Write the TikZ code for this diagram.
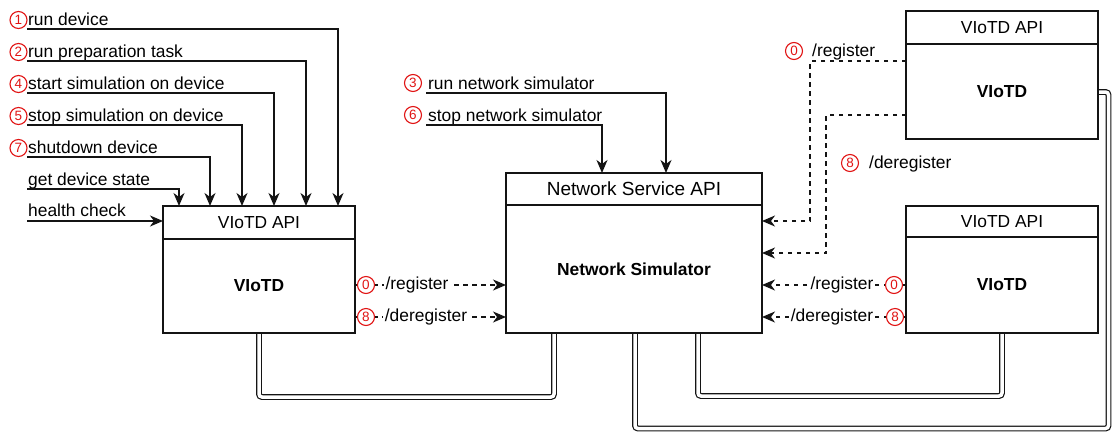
\documentclass[tikz,border=0pt]{standalone}
\usepackage{fontspec}
\setmainfont{Liberation Sans}
\usetikzlibrary{arrows.meta,calc,backgrounds}
\definecolor{numred}{RGB}{225,20,20}
\definecolor{ink}{RGB}{20,20,20}
\begin{document}
\begin{tikzpicture}[x=1pt,y=-1pt,
  every node/.style={inner sep=0pt},
  lbl/.style={font=\fontsize{17.4}{20}\selectfont, anchor=base west},
  hdr/.style={draw=ink, line width=1.4pt, fill=white, anchor=north west, outer sep=0pt,
    font=\fontsize{17.4}{20}\selectfont},
  bodybox/.style={draw=ink, line width=1.4pt, fill=white, anchor=north, outer sep=0pt,
    font=\fontsize{17.4}{20}\selectfont\bfseries},
  num/.style={circle, draw=numred, text=numred, line width=1.1pt,
    minimum size=17pt, fill=white, font=\fontsize{13.5}{14}\selectfont},
  arr/.style={draw=ink, line width=1.4pt, -{Stealth[length=13pt,width=11pt,inset=4pt]}},
  dasharr/.style={arr, dash pattern=on 4.5pt off 4.5pt},
  link/.style={draw=ink, line width=1.2pt, double=white, double distance=3.5pt,
    rounded corners=3pt},
  tag/.style={fill=white, inner xsep=1.5pt, inner ysep=1pt,
    font=\fontsize{17.4}{20}\selectfont}
]
\useasboundingbox (0,0) rectangle (1112,432);

% ---- boxes ----
\node[hdr, minimum width=192, minimum height=33] (lapi) at (163,206) {VIoTD API};
\node[bodybox, minimum width=192, minimum height=94] (ldev) at (lapi.south) {VIoTD};

\node[hdr, minimum width=256, minimum height=32, font=\fontsize{19}{22}\selectfont]
  (nsapi) at (506,173) {Network Service API};
\node[bodybox, minimum width=256, minimum height=128] (nsim) at (nsapi.south) {Network Simulator};

\node[hdr, minimum width=192, minimum height=33] (tapi) at (906,11) {VIoTD API};
\node[bodybox, minimum width=192, minimum height=95] (tdev) at (tapi.south) {VIoTD};

\node[hdr, minimum width=192, minimum height=31] (bapi) at (906,206) {VIoTD API};
\node[bodybox, minimum width=192, minimum height=96] (bdev) at (bapi.south) {VIoTD};

% ---- device commands ----
\node[num] (n1) at (18.5,20) {1};
\node[lbl] (c1) at (28,25) {run device};
\node[num] (n2) at (18.5,52) {2};
\node[lbl] (c2) at (28,57) {run preparation task};
\node[num] (n4) at (18.5,84) {4};
\node[lbl] (c4) at (28,89) {start simulation on device};
\node[num] (n5) at (18.5,116) {5};
\node[lbl] (c5) at (28,121) {stop simulation on device};
\node[num] (n7) at (18.5,148) {7};
\node[lbl] (c7) at (28,153) {shutdown device};
\node[lbl] (cs) at (28,185) {get device state};
\node[lbl] (ch) at (28,216) {health check};

\coordinate (s1) at (27,29);
\coordinate (s2) at (27,61);
\coordinate (s4) at (27,93);
\coordinate (s5) at (27,125);
\coordinate (s7) at (27,157);
\coordinate (ss) at (27,189);
\coordinate (sh) at (27,221);

\draw[arr] (s1) -| ([xshift=175pt]lapi.north west);
\draw[arr] (s2) -| ([xshift=143pt]lapi.north west);
\draw[arr] (s4) -| ([xshift=111pt]lapi.north west);
\draw[arr] (s5) -| ([xshift=79pt]lapi.north west);
\draw[arr] (s7) -| ([xshift=47pt]lapi.north west);
\draw[arr] (ss) -| ([xshift=16pt]lapi.north west);
\draw[arr] (sh) -- (sh -| lapi.west);

% ---- network simulator commands ----
\node[num] (n3) at (413,83) {3};
\node[lbl] (c3) at (428,89) {run network simulator};
\node[num] (n6) at (413,115) {6};
\node[lbl] (c6) at (428,121) {stop network simulator};
\coordinate (s3) at (426,93);
\coordinate (s6) at (426,125);
\draw[arr] (s3) -| ([xshift=160pt]nsapi.north west);
\draw[arr] (s6) -| ([xshift=96pt]nsapi.north west);

% ---- registration: left device ----
\coordinate (lr) at ([yshift=1pt]ldev.east);
\coordinate (ld) at ([yshift=-31pt]ldev.east);
\draw[dasharr] (lr) -- (lr -| nsim.west);
\draw[dasharr] (ld) -- (ld -| nsim.west);
\node[tag] (lrt) at (417,285) {/register};
\node[tag] (ldt) at (426,317) {/deregister};
\node[num] (lr0) at (366,285) {0};
\node[num] (ld8) at (366,317) {8};

% ---- registration: lower right device ----
\coordinate (br) at ([yshift=0pt]bdev.west);
\coordinate (bd) at ([yshift=-32pt]bdev.west);
\draw[dasharr] (br) -- (br -| nsim.east);
\draw[dasharr] (bd) -- (bd -| nsim.east);
\node[tag] (brt) at (842,285) {/register};
\node[tag] (bdt) at (832,317) {/deregister};
\node[num] (br0) at (894,285) {0};
\node[num] (bd8) at (895,317) {8};

% ---- registration: upper right device ----
\coordinate (tr) at ([yshift=30.5pt]tdev.west);
\coordinate (td) at ([yshift=-23.5pt]tdev.west);
\coordinate (kr) at (810,221);
\coordinate (kd) at (826,253);
\draw[dasharr] (tr) -| (kr) -- (kr -| nsim.east);
\draw[dasharr] (td) -| (kd) -- (kd -| nsim.east);
\node[num] (tr0) at (794,51) {0};
\node[lbl] (trt) at (812,56) {/register};
\node[num] (td8) at (850,163) {8};
\node[lbl] (tdt) at (869,168) {/deregister};

% ---- network links ----
\begin{pgfonlayer}{background}
  \draw[link] ([xshift=96pt]ldev.south west) -- ++(0,64) -| ([xshift=48pt]nsim.south west);
  \draw[link] (bdev.south) -- ++(0,63) -| ([xshift=192pt]nsim.south west);
  \draw[link] ([yshift=-0.5pt]tdev.east) -| (1108.5,428.5) -| ([xshift=129pt]nsim.south west);
\end{pgfonlayer}
\end{tikzpicture}
\end{document}
